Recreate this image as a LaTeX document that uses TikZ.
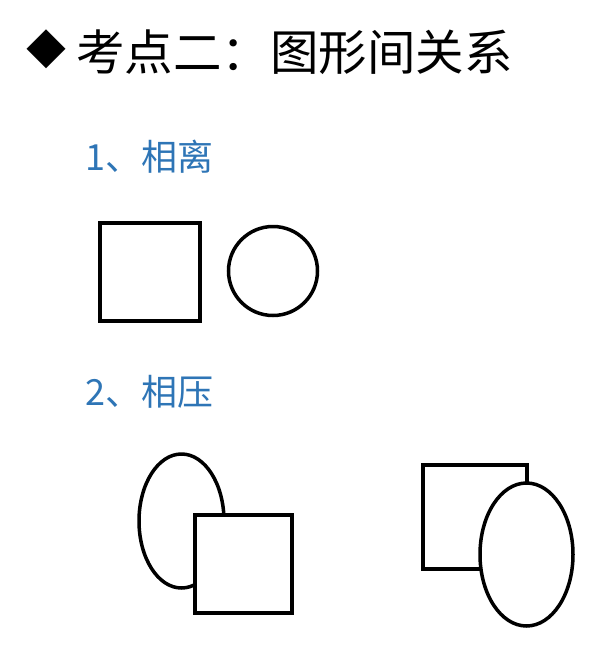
\documentclass[tikz,border=0pt]{standalone}
\usepackage{fontspec}
\newfontfamily\cjk{Noto Sans CJK SC}
\usetikzlibrary{shapes.geometric}
\definecolor{secblue}{HTML}{2E75B6}
\begin{document}
\begin{tikzpicture}[x=1pt,y=-1pt,
  shapebox/.style={draw=black,line width=4pt,rectangle,inner sep=0pt,outer sep=0pt,fill=white},
  roundshape/.style={draw=black,line width=3.5pt,ellipse,inner sep=0pt,outer sep=0pt,fill=white},
  titletext/.style={font=\cjk\fontsize{48.5}{52}\selectfont,inner sep=0pt,anchor=base west},
  sectext/.style={font=\cjk\fontsize{36}{40}\selectfont,text=secblue,inner sep=0pt,anchor=base west}]
\useasboundingbox (0,0) rectangle (610,654);
% title
\node[font=\cjk\fontsize{40}{44}\selectfont,inner sep=0pt,anchor=center] (bullet) at (47,49) {◆};
\node[titletext] (title) at (76,70) {考点二：图形间关系};
% section 1
\node[sectext] (sec1) at (85,170) {1、相离};
\node[shapebox,minimum width=100pt,minimum height=98pt] (sq1) at (150,272) {};
\node[roundshape,minimum width=89pt,minimum height=89pt] (circ1) at (273,271) {};
% section 2
\node[sectext] (sec2) at (85,405) {2、相压};
\node[roundshape,minimum width=85pt,minimum height=134pt] (ell1) at (181.5,521) {};
\node[shapebox,minimum width=97pt,minimum height=98pt] (sq2) at (243.5,564) {};
\node[shapebox,minimum width=104pt,minimum height=104pt] (rect3) at (475,517) {};
\node[roundshape,minimum width=93pt,minimum height=143pt] (ell3) at (526.5,554.5) {};
\end{tikzpicture}
\end{document}
